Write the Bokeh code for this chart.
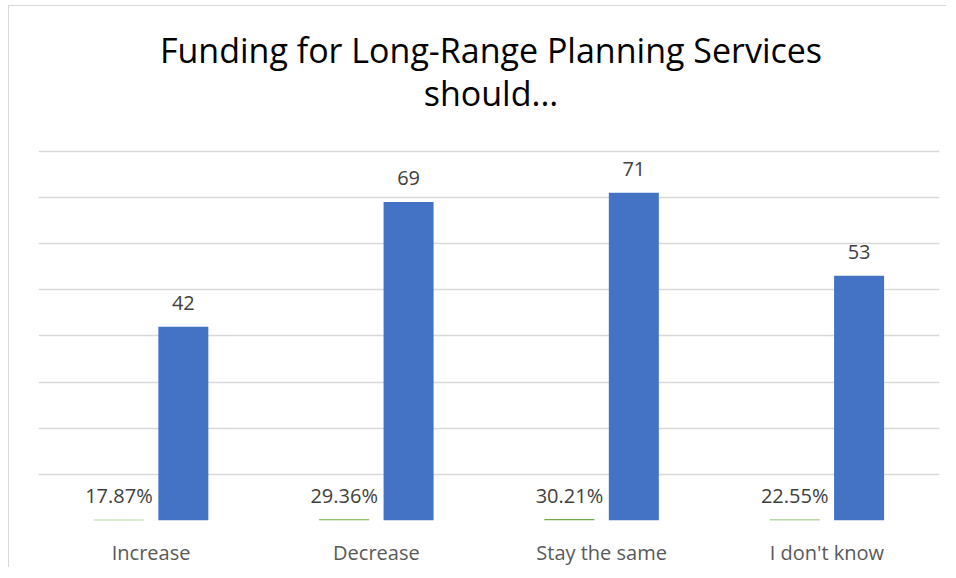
from bokeh.plotting import figure
from bokeh.models import FactorRange, Range1d, FixedTicker, ColumnDataSource, Label
from bokeh.transform import dodge
from bokeh.core.properties import value
from bokeh.embed import file_html
from bokeh.resources import INLINE

# ---- data ----
categories = ["Increase", "Decrease", "Stay the same", "I don't know"]
counts = [42, 69, 71, 53]
shares = [0.1787, 0.2936, 0.3021, 0.2255]
share_labels = ["17.87%", "29.36%", "30.21%", "22.55%"]
count_labels = ["42", "69", "71", "53"]
y_ticks = [0, 10, 20, 30, 40, 50, 60, 70, 80]
y_max = 80

title_line1 = "Funding for Long-Range Planning Services"
title_line2 = "should..."

src = ColumnDataSource(dict(cat=categories, count=counts, share=shares,
                            share_label=share_labels, count_label=count_labels))

# ---- layout (pixels) ----
W, H = 938, 562
ML, MR, MB = 29, 8, 47
frame_h = H - MB                 # frame reaches the top of the canvas (title lives inside it)
plot_h = 370                     # pixel height from 0 to y_max
ppu = plot_h / y_max             # pixels per unit
y_top = frame_h / ppu

p = figure(x_range=FactorRange(factors=categories, range_padding=0),
           y_range=Range1d(0, y_top),
           width=W, height=H, title=None,
           output_backend="svg", toolbar_location=None,
           min_border_left=ML, min_border_right=MR,
           min_border_top=0, min_border_bottom=MB)

p.styles = {"margin-left": "8px", "margin-top": "5px",
            "border-left": "1px solid #d9d9d9", "border-top": "1px solid #d9d9d9"}
p.background_fill_color = "white"
p.border_fill_color = "white"
p.outline_line_color = None

# title: two centred lines (baselines given in canvas pixels from top)
for txt, base_px in [(title_line1, 44), (title_line2, 87)]:
    p.add_layout(Label(x=len(categories) / 2, y=(frame_h - base_px) / ppu, x_offset=2,
                       text=txt, text_align="center", text_baseline="alphabetic",
                       text_font="Open Sans", text_font_size="34px",
                       text_font_style="normal", text_color="#000000"))

# bars
bw = 0.222
off = 0.143
p.vbar(x=dodge("cat", -off, range=p.x_range), top="share", width=bw, bottom=0,
       source=src, fill_color="#70AD47", line_color=None)
p.vbar(x=dodge("cat", off, range=p.x_range), top="count", width=bw, bottom=0,
       source=src, fill_color="#4472C4", line_color=None)

# data labels
p.text(x=dodge("cat", -off, range=p.x_range), y="share", text="share_label", source=src,
       text_align="center", text_baseline="alphabetic", y_offset=-24,
       text_font=value("Open Sans"), text_font_size="20px", text_color="#404040")
p.text(x=dodge("cat", off, range=p.x_range), y="count", text="count_label", source=src,
       text_align="center", text_baseline="alphabetic", y_offset=-24,
       text_font=value("Open Sans"), text_font_size="20px", text_color="#404040")

# axes / grid
p.yaxis.visible = False
p.ygrid.ticker = FixedTicker(ticks=y_ticks)
p.ygrid.grid_line_color = "#D9D9D9"
p.ygrid.grid_line_width = 1.5
p.xgrid.grid_line_color = None

p.xaxis.axis_line_color = None
p.xaxis.major_tick_line_color = None
p.xaxis.minor_tick_line_color = None
p.xaxis.major_tick_out = 0
p.xaxis.major_tick_in = 0
p.xaxis.major_label_standoff = 18
p.xaxis.major_label_text_font = "Open Sans"
p.xaxis.major_label_text_font_size = "20px"
p.xaxis.major_label_text_color = "#595959"

open("out.html", "w").write(file_html(p, INLINE))
